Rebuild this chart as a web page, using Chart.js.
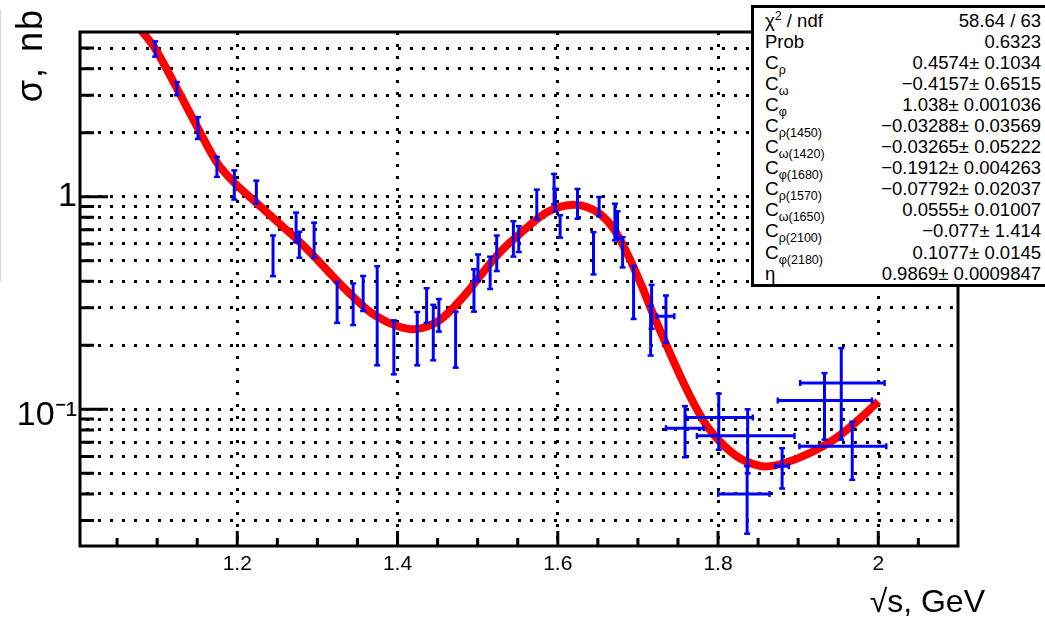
<!DOCTYPE html>
<html lang="en">
<head>
<meta charset="UTF-8">
<title>Cross section fit</title>
<script src="https://cdn.jsdelivr.net/npm/chart.js"></script>
<style>
  body { margin: 0; background: #fff; font-family: "Liberation Sans", Arial, sans-serif; }
  #wrap { position: relative; width: 1045px; height: 617px; overflow: hidden; }
  #plot { position: absolute; left: 0; top: 0; }
  #edge { position: absolute; left: 0; top: 10px; height: 272px; border-left: 1px solid #d8d8d8; }
  .ytitle { position: absolute; left: 12px; top: 158px; width: 150px; height: 36px; line-height: 36px;
            font-size: 36px; letter-spacing: 2px; word-spacing: 2px; text-align: right;
            transform-origin: left top; transform: rotate(-90deg); white-space: nowrap; }
  .xtitle { position: absolute; right: 60px; top: 585px; line-height: 32px; font-size: 32px; white-space: nowrap; }
  #stats { position: absolute; left: 751px; top: 5px; width: 276px; border: 3px solid #000; background: #fff;
           padding: 1.5px 3.5px 0 11px; height: 274.3px; }
  .row { display: flex; justify-content: space-between; height: 21.1px; line-height: 21.1px; font-size: 18.5px; white-space: nowrap; }
  .row .c { font-size: 19px; }
  .row sub { font-size: 12.5px; position: relative; top: 5px; vertical-align: baseline; line-height: 0; }
  .row sup { font-size: 12.5px; position: relative; top: -7px; vertical-align: baseline; line-height: 0; }
</style>
</head>
<body>
<div id="wrap">
  <canvas id="plot" width="1045" height="617"></canvas>
  <div id="edge"></div>
  <div class="ytitle">σ, nb</div>
  <div class="xtitle">√s, GeV</div>
  <div id="stats">
    <div class="row"><span>χ<sup>2</sup> / ndf</span><span>58.64 / 63</span></div>
    <div class="row"><span>Prob</span><span>0.6323</span></div>
    <div class="row"><span><span class="c">C</span><sub>ρ</sub></span><span>0.4574± 0.1034</span></div>
    <div class="row"><span><span class="c">C</span><sub>ω</sub></span><span>−0.4157± 0.6515</span></div>
    <div class="row"><span><span class="c">C</span><sub>φ</sub></span><span>1.038± 0.001036</span></div>
    <div class="row"><span><span class="c">C</span><sub>ρ(1450)</sub></span><span>−0.03288± 0.03569</span></div>
    <div class="row"><span><span class="c">C</span><sub>ω(1420)</sub></span><span>−0.03265± 0.05222</span></div>
    <div class="row"><span><span class="c">C</span><sub>φ(1680)</sub></span><span>−0.1912± 0.004263</span></div>
    <div class="row"><span><span class="c">C</span><sub>ρ(1570)</sub></span><span>−0.07792± 0.02037</span></div>
    <div class="row"><span><span class="c">C</span><sub>ω(1650)</sub></span><span>0.0555± 0.01007</span></div>
    <div class="row"><span><span class="c">C</span><sub>ρ(2100)</sub></span><span>−0.077± 1.414</span></div>
    <div class="row"><span><span class="c">C</span><sub>φ(2180)</sub></span><span>0.1077± 0.0145</span></div>
    <div class="row"><span>η</span><span>0.9869± 0.0009847</span></div>
  </div>
</div>

<script>
// measured points: sqrt(s) [GeV], cross section [nb] and errors
const dataX = [1.0975, 1.1246, 1.1509, 1.1746, 1.1963, 1.2238, 1.2446, 1.2734, 1.2775, 1.2959,
               1.3246, 1.3446, 1.3571, 1.3746, 1.3954, 1.4246, 1.4363, 1.4446, 1.4516, 1.4725,
               1.4954, 1.5004, 1.5156, 1.5238, 1.5446, 1.5513, 1.5738, 1.5954, 1.5969, 1.6029,
               1.6246, 1.6446, 1.6516, 1.6713, 1.6746, 1.6809, 1.6946, 1.7171, 1.7159, 1.735,
               1.7588, 1.8009, 1.837, 1.8363, 1.88, 1.9329, 1.9538, 1.9675];
const dataY = [4.97, 3.23, 2.12, 1.39, 1.15, 1.06, 0.54, 0.726, 0.60, 0.635,
               0.326, 0.320, 0.357, 0.316, 0.204, 0.224, 0.313, 0.240, 0.281, 0.2225,
               0.372, 0.468, 0.445, 0.552, 0.645, 0.638, 0.93, 1.10, 0.972, 0.73,
               0.938, 0.556, 0.903, 0.775, 0.742, 0.555, 0.369, 0.312, 0.243, 0.274,
               0.0815, 0.0915, 0.075, 0.040, 0.054, 0.110, 0.133, 0.067];
const dataErrY = [0.41, 0.23, 0.25, 0.15, 0.18, 0.13, 0.117, 0.116, 0.084, 0.12,
                  0.071, 0.071, 0.067, 0.155, 0.058, 0.063, 0.058, 0.070, 0.049, 0.0655,
                  0.084, 0.067, 0.077, 0.105, 0.122, 0.089, 0.15, 0.18, 0.118, 0.088,
                  0.15, 0.125, 0.094, 0.152, 0.112, 0.09, 0.103, 0.073, 0.064, 0.069,
                  0.022, 0.027, 0.025, 0.014, 0.0116, 0.038, 0.061, 0.0204];
const dataErrXLow  = [0, 0, 0, 0, 0, 0, 0, 0, 0, 0, 0, 0, 0, 0, 0, 0, 0, 0, 0, 0,
                      0, 0, 0, 0, 0, 0, 0, 0, 0, 0, 0, 0, 0, 0, 0, 0, 0, 0, 0, 0.0113,
                      0.0238, 0.0409, 0.0633, 0.036, 0.0084, 0.0583, 0.0513, 0.0659];
const dataErrXHigh = [0, 0, 0, 0, 0, 0, 0, 0, 0, 0, 0, 0, 0, 0, 0, 0, 0, 0, 0, 0,
                      0, 0, 0, 0, 0, 0, 0, 0, 0, 0, 0, 0, 0, 0, 0, 0, 0, 0, 0, 0.0104,
                      0.0234, 0.0425, 0.0584, 0.028, 0.0084, 0.0593, 0.0541, 0.0425];

// fit curve
const curveX = [1.0806, 1.0975, 1.1246, 1.1509, 1.1746, 1.1963, 1.2238, 1.2538, 1.2746, 1.2954,
                1.3246, 1.3454, 1.3663, 1.3809, 1.3954, 1.41, 1.4204, 1.4371, 1.4538, 1.4704,
                1.4871, 1.5038, 1.5204, 1.5371, 1.5538, 1.5704, 1.5871, 1.6038, 1.6204, 1.6371,
                1.6538, 1.6704, 1.6871, 1.7038, 1.7204, 1.7371, 1.7538, 1.7704, 1.7871, 1.8079,
                1.8288, 1.8496, 1.8621, 1.8829, 1.9038, 1.9246, 1.9454, 1.9663, 1.9871, 2.0];
const curveY = [6.03, 4.97, 3.231, 2.101, 1.449, 1.163, 0.937, 0.740, 0.630, 0.526,
                0.402, 0.336, 0.286, 0.2648, 0.2495, 0.2403, 0.2378, 0.2455, 0.2648, 0.3030,
                0.3558, 0.4273, 0.5104, 0.5934, 0.6752, 0.7643, 0.8465, 0.8981, 0.9175, 0.8933,
                0.8241, 0.7013, 0.5357, 0.3879, 0.2720, 0.1949, 0.1411, 0.1055, 0.0824, 0.0672,
                0.0584, 0.0545, 0.0539, 0.0559, 0.0597, 0.0650, 0.0724, 0.0833, 0.0979, 0.1090];

// axis ticks
const xTicks = [1.05, 1.1, 1.15, 1.2, 1.25, 1.3, 1.35, 1.4, 1.45, 1.5, 1.55, 1.6, 1.65, 1.7,
                1.75, 1.8, 1.85, 1.9, 1.95, 2.0, 2.05];
const xLabelTicks = [1.2, 1.4, 1.6, 1.8, 2.0];
const yTicks = [0.03, 0.04, 0.05, 0.06, 0.07, 0.08, 0.09, 0.1, 0.2, 0.3, 0.4, 0.5, 0.6,
                0.7, 0.8, 0.9, 1, 2, 3, 4, 5];
const yDecades = [0.1, 1];

const xMin = 1.0037, xMax = 2.0995;
const yMin = 0.02275, yMax = 5.954;

const FONT = '"Liberation Sans", Arial, sans-serif';
const near = (v, list) => list.some(t => Math.abs(v - t) < 1e-6);

const rootStyle = {
  id: 'rootStyle',
  afterDatasetsDraw(chart) {
    const { ctx, scales: { x, y } } = chart;
    const line = (x1, y1, x2, y2) => { ctx.beginPath(); ctx.moveTo(x1, y1); ctx.lineTo(x2, y2); ctx.stroke(); };
    ctx.save();
    ctx.strokeStyle = '#0000ff';
    ctx.lineCap = 'butt';
    dataX.forEach((xv, i) => {
      const px = x.getPixelForValue(xv);
      const py = y.getPixelForValue(dataY[i]);
      const top = y.getPixelForValue(dataY[i] + dataErrY[i]);
      const bot = y.getPixelForValue(dataY[i] - dataErrY[i]);
      ctx.lineWidth = 3;
      line(px, top, px, bot);
      ctx.lineWidth = 2.5;
      line(px - 3, top, px + 3, top);
      line(px - 3, bot, px + 3, bot);
      if (dataErrXLow[i] > 0) {
        const l = x.getPixelForValue(xv - dataErrXLow[i]);
        const r = x.getPixelForValue(xv + dataErrXHigh[i]);
        ctx.lineWidth = 3;
        line(l, py, r, py);
        ctx.lineWidth = 2.5;
        line(l, py - 3, l, py + 3);
        line(r, py - 3, r, py + 3);
      }
    });
    ctx.restore();
  },
  afterDraw(chart) {
    const { ctx, chartArea: a, scales: { x, y } } = chart;
    ctx.save();
    ctx.strokeStyle = '#000';
    ctx.lineWidth = 3;
    ctx.strokeRect(a.left, a.top, a.right - a.left, a.bottom - a.top);
    ctx.beginPath();
    xTicks.forEach(v => {
      const px = x.getPixelForValue(v);
      const len = near(v, xLabelTicks) ? 15 : 8;
      ctx.moveTo(px, a.bottom);
      ctx.lineTo(px, a.bottom - len);
    });
    yTicks.forEach(v => {
      const py = y.getPixelForValue(v);
      const len = near(v, yDecades) ? 28 : 14;
      ctx.moveTo(a.left, py);
      ctx.lineTo(a.left + len, py);
    });
    ctx.stroke();
    ctx.restore();
  }
};

new Chart(document.getElementById('plot'), {
  type: 'scatter',
  data: {
    datasets: [{
      type: 'line',
      data: curveX.map((v, i) => ({ x: v, y: curveY[i] })),
      borderColor: '#ff0000',
      borderWidth: 8,
      pointRadius: 0,
      tension: 0.35,
      clip: 0
    }]
  },
  options: {
    responsive: false,
    animation: false,
    layout: { padding: { top: 32, right: 87, left: 0, bottom: 0 } },
    plugins: { legend: { display: false }, tooltip: { enabled: false } },
    scales: {
      x: {
        type: 'linear',
        min: xMin,
        max: xMax,
        afterBuildTicks: s => { s.ticks = xTicks.map(v => ({ value: v })); },
        afterFit: s => { s.height = 71; },
        grid: {
          color: c => (c.tick && near(c.tick.value, xLabelTicks)) ? '#000' : 'rgba(0,0,0,0)',
          lineWidth: 3,
          drawTicks: false
        },
        border: { display: false, dash: [3, 9] },
        ticks: {
          autoSkip: false,
          maxRotation: 0,
          padding: 6,
          color: '#000',
          font: { family: FONT, size: 21 },
          callback: v => near(v, xLabelTicks) ? String(Math.round(v * 10) / 10) : ''
        }
      },
      y: {
        type: 'logarithmic',
        min: yMin,
        max: yMax,
        afterBuildTicks: s => { s.ticks = yTicks.map(v => ({ value: v })); },
        afterFit: s => { s.width = 80; },
        grid: { color: '#000', lineWidth: 3, drawTicks: false },
        border: { display: false, dash: [3, 9], dashOffset: 6 },
        ticks: {
          autoSkip: false,
          padding: 3,
          color: '#000',
          font: c => ({ family: FONT, size: 34,
                        lineHeight: (c.tick && Math.abs(c.tick.value - 0.1) < 1e-9) ? '12px' : 1.2 }),
          callback: v => {
            if (Math.abs(v - 1) < 1e-9) return '1';
            if (Math.abs(v - 0.1) < 1e-9) return ['', '10⁻¹'];
            return '';
          }
        }
      }
    }
  },
  plugins: [rootStyle]
});
</script>
</body>
</html>
